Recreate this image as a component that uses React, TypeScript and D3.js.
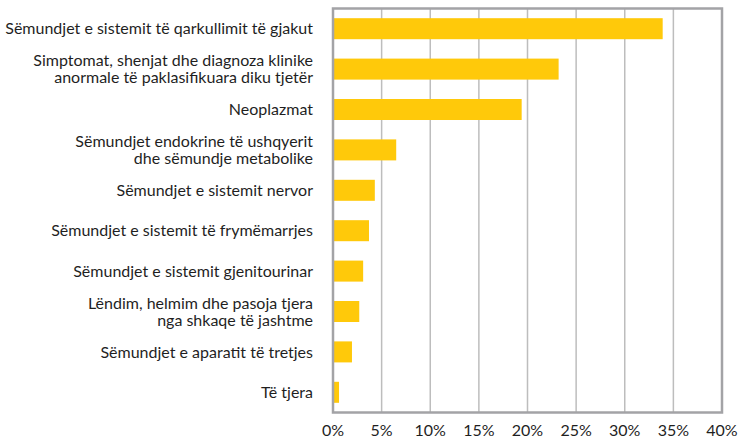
import React from "react";
import * as d3 from "d3";

const categories: string[][] = [
  ["Sëmundjet e sistemit të qarkullimit të gjakut"],
  ["Simptomat, shenjat dhe diagnoza klinike", "anormale të paklasifikuara diku tjetër"],
  ["Neoplazmat"],
  ["Sëmundjet endokrine të ushqyerit", "dhe sëmundje metabolike"],
  ["Sëmundjet e sistemit nervor"],
  ["Sëmundjet e sistemit të frymëmarrjes"],
  ["Sëmundjet e sistemit gjenitourinar"],
  ["Lëndim, helmim dhe pasoja tjera", "nga shkaqe të jashtme"],
  ["Sëmundjet e aparatit të tretjes"],
  ["Të tjera"],
];
const values: number[] = [33.9, 23.2, 19.4, 6.5, 4.3, 3.7, 3.1, 2.7, 1.95, 0.62];
const ticks: number[] = [0, 5, 10, 15, 20, 25, 30, 35, 40];

const W = 743;
const H = 437;
const left = 333;
const right = 722;
const top = 8.5;
const bottom = 412.5;
const FONT = "Lato, 'Open Sans', sans-serif";

export default function App() {
  const x = d3.scaleLinear().domain([0, 40]).range([left, right]);
  const idx = categories.map((_, i) => String(i));
  const y = d3.scaleBand().domain(idx).range([top, bottom]).paddingInner(0.48).paddingOuter(0.24);
  return (
    <svg width={W} height={H} style={{ position: "absolute", left: 0, top: 0 }}>
      <rect x={0} y={0} width={W} height={H} fill="#fff" />
      {ticks.slice(1, -1).map((t) => (
        <line key={t} x1={x(t)} x2={x(t)} y1={top} y2={bottom} stroke="#bdbdbd" strokeWidth={1.5} />
      ))}
      {values.map((v, i) => (
        <rect key={i} x={x(0)} y={y(String(i))} width={x(v) - x(0)} height={y.bandwidth()} fill="#FFC90A" />
      ))}
      <rect x={left} y={top} width={right - left} height={bottom - top} fill="none" stroke="#a3a3a6" strokeWidth={2.5} />
      {categories.map((lines, i) => {
        const cy = (y(String(i)) as number) + y.bandwidth() / 2;
        const lh = 17;
        const start = cy - ((lines.length - 1) * lh) / 2;
        return (
          <text key={i} textAnchor="end" fontFamily={FONT} fontSize={16} fill="#1f1f1f">
            {lines.map((l, j) => (
              <tspan key={j} x={313} y={start + j * lh} dy="0.35em">{l}</tspan>
            ))}
          </text>
        );
      })}
      {ticks.map((t) => (
        <text key={t} x={x(t)} y={430} dy="0.35em" textAnchor="middle" fontFamily={FONT} fontSize={16} fill="#1f1f1f">
          {t}%
        </text>
      ))}
    </svg>
  );
}
